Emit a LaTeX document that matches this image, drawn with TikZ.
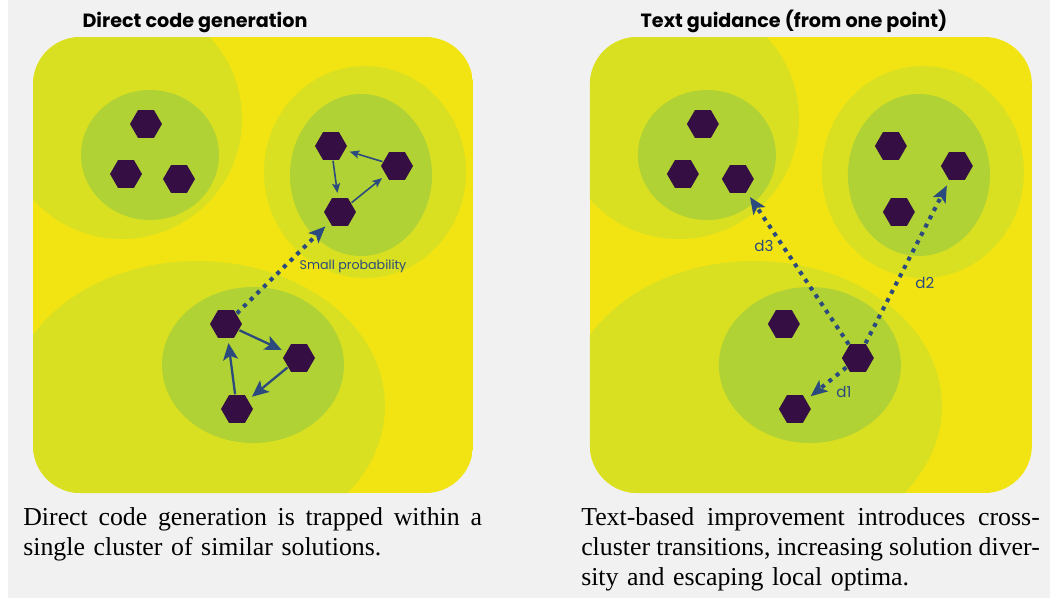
\documentclass[tikz,border=0pt]{standalone}
\usepackage{fontspec}
\setmainfont{Liberation Serif}
\newfontfamily\geofont{Poppins}
\usetikzlibrary{shapes.geometric,arrows.meta}
\definecolor{bgray}{HTML}{F1F1F1}
\definecolor{fieldyellow}{HTML}{F2E413}
\definecolor{outergreen}{HTML}{D9E021}
\definecolor{innergreen}{HTML}{B1D235}
\definecolor{hexpurple}{HTML}{350F43}
\definecolor{arrowblue}{HTML}{2B4A7E}
\newcommand\fullline[1]{\makebox[261pt][s]{\spaceskip=0.25em plus 0.2em minus 0.12em\relax #1}}
\begin{document}
\begin{tikzpicture}[x=0.02cm, y=-0.02cm,
    hexa/.style={regular polygon, regular polygon sides=6, fill=hexpurple, minimum size=18.2pt, inner sep=0pt, outer sep=0.5pt},
    hop/.style={draw=arrowblue, line width=0.9pt, -{Stealth[length=5.5pt, width=4.6pt, inset=1.2pt]}, shorten >=2.5pt},
    hopbig/.style={draw=arrowblue, line width=1.3pt, -{Stealth[length=9.5pt, width=8.5pt, inset=2.2pt]}, shorten >=2.5pt},
    jump/.style={draw=arrowblue, line width=2.3pt, dash pattern=on 2.3pt off 3pt, -{Stealth[length=9.5pt, width=8pt, inset=2.2pt]}, shorten >=3pt},
    heading/.style={font=\geofont\bfseries\fontsize{10.9}{12}\selectfont, anchor=base},
    hint/.style={font=\geofont\fontsize{7.2}{8}\selectfont, text=arrowblue, inner sep=0pt},
    dlabel/.style={font=\geofont\fontsize{8.6}{9}\selectfont, text=arrowblue, inner sep=0pt},
    capt/.style={font=\fontsize{14.7}{16.9}\selectfont, text width=261pt, align=left, inner sep=0pt, anchor=north west}]
    \useasboundingbox (0,0) rectangle (1050,599);
    \fill[bgray] (8,0) rectangle (1050,598);
    % left panel
    \begin{scope}
        \clip[rounded corners=27pt] (33,37) rectangle (473,493);
        \fill[fieldyellow] (33,37) rectangle (473,493);
        \fill[outergreen] (122,119) ellipse [x radius=120, y radius=120];
        \fill[outergreen] (365,172) ellipse [x radius=101, y radius=106];
        \fill[outergreen] (197,406) ellipse [x radius=188, y radius=145];
        \fill[innergreen] (150,155) ellipse [x radius=69, y radius=65];
        \fill[innergreen] (361,175) ellipse [x radius=71, y radius=81];
        \fill[innergreen] (253,365) ellipse [x radius=91, y radius=78];
    \end{scope}
    \node[heading] (t1) at (195,27) {Direct code generation};
    \node[hexa] (a1) at (146,124) {};
    \node[hexa] (a2) at (126,174) {};
    \node[hexa] (a3) at (179,179) {};
    \node[hexa] (b1) at (331,146) {};
    \node[hexa] (b2) at (397,166) {};
    \node[hexa] (b3) at (340,212) {};
    \node[hexa] (c1) at (226,324) {};
    \node[hexa] (c2) at (299,358) {};
    \node[hexa] (c3) at (237,409) {};
    \draw[hop] (b2) -- (b1);
    \draw[hop] (b1) -- (b3);
    \draw[hop] (b3) -- (b2);
    \draw[hopbig] (c1) -- (c2);
    \draw[hopbig] (c2) -- (c3);
    \draw[hopbig] (c3) -- (c1);
    \draw[jump] (c1) -- (b3);
    \node[hint] (p) at (353,266) {Small probability};
    \node[capt] (cap1) at (23,507.5) {\fullline{Direct code generation is trapped within a}\\single cluster of similar solutions.};
    % right panel
    \begin{scope}[xshift=11.14cm]
        \begin{scope}
            \clip[rounded corners=27pt] (33,37) rectangle (475,493);
            \fill[fieldyellow] (33,37) rectangle (475,493);
            \fill[outergreen] (122,119) ellipse [x radius=120, y radius=120];
            \fill[outergreen] (366,172) ellipse [x radius=101, y radius=106];
            \fill[outergreen] (197,406) ellipse [x radius=188, y radius=145];
            \fill[innergreen] (150,155) ellipse [x radius=69, y radius=65];
            \fill[innergreen] (362,175) ellipse [x radius=71, y radius=81];
            \fill[innergreen] (253,365) ellipse [x radius=91, y radius=78];
        \end{scope}
        \node[heading] (t2) at (237,27) {Text guidance (from one point)};
        \node[hexa] (ra1) at (146,124) {};
        \node[hexa] (ra2) at (126,174) {};
        \node[hexa] (ra3) at (181,179) {};
        \node[hexa] (rb1) at (334,146) {};
        \node[hexa] (rb2) at (400,166) {};
        \node[hexa] (rb3) at (342,212) {};
        \node[hexa] (rc1) at (227,324) {};
        \node[hexa] (rc2) at (301,358) {};
        \node[hexa] (rc3) at (238,409) {};
        \draw[jump] (rc2) -- (rc3);
        \draw[jump] (rc2) -- (rb2);
        \draw[jump] (rc2) -- (ra3);
        \node[dlabel] (d1) at (287,392) {d1};
        \node[dlabel] (d2) at (368,283) {d2};
        \node[dlabel] (d3) at (207,246) {d3};
        \node[capt] (cap2) at (24,507.5) {\fullline{Text-based improvement introduces cross-}\\\fullline{cluster transitions, increasing solution diver-}\\sity and escaping local optima.};
    \end{scope}
\end{tikzpicture}
\end{document}
